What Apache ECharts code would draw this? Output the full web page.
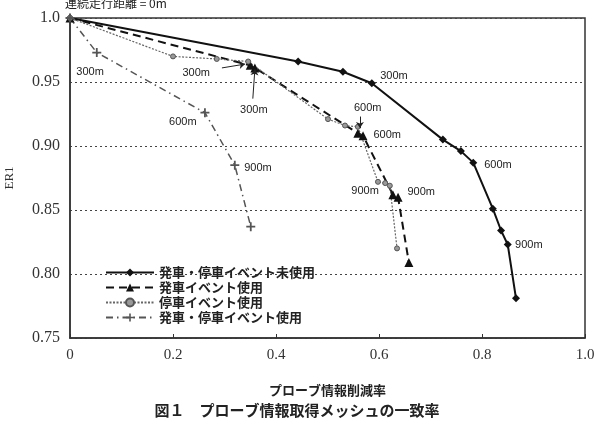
<!doctype html>
<html>
<head>
<meta charset="utf-8">
<script src="https://cdn.jsdelivr.net/npm/echarts@6/dist/echarts.min.js"></script>
<style>html,body{margin:0;padding:0;background:#fff;}</style>
</head>
<body>
<div id="main" style="width:594px;height:426px;"></div>
<script type="text/javascript">
// 系列名
var seriesNames = ['発車・停車イベント未使用', '発車イベント使用', '停車イベント使用', '発車・停車イベント使用'];

// 発車・停車イベント未使用
var s1x = [0, 0.443, 0.530, 0.586, 0.724, 0.759, 0.783, 0.821, 0.837, 0.850, 0.866];
var s1y = [1.0, 0.966, 0.958, 0.949, 0.905, 0.896, 0.887, 0.851, 0.834, 0.823, 0.781];
// 発車イベント使用
var s2x = [0, 0.350, 0.359, 0.559, 0.569, 0.627, 0.637, 0.658];
var s2y = [1.0, 0.963, 0.961, 0.910, 0.908, 0.862, 0.860, 0.809];
// 停車イベント使用
var s3x = [0, 0.200, 0.285, 0.346, 0.501, 0.534, 0.559, 0.598, 0.612, 0.621, 0.635];
var s3y = [1.0, 0.970, 0.968, 0.966, 0.921, 0.916, 0.915, 0.872, 0.871, 0.869, 0.820];
// 発車・停車イベント使用
var s4x = [0, 0.052, 0.262, 0.320, 0.351];
var s4y = [1.0, 0.973, 0.926, 0.885, 0.837];

var xTicks = ['0', '0.2', '0.4', '0.6', '0.8', '1.0'];
var yTicks = ['0.75', '0.80', '0.85', '0.90', '0.95', '1.0'];

// 距離ラベル
var annoText = ['300m', '300m', '300m', '300m', '600m', '900m', '600m', '600m', '900m', '900m', '600m', '900m'];
var annoX = [0.039, 0.245, 0.357, 0.629, 0.219, 0.365, 0.578, 0.616, 0.573, 0.682, 0.831, 0.891];
var annoY = [0.958, 0.957, 0.928, 0.955, 0.919, 0.883, 0.930, 0.909, 0.865, 0.864, 0.885, 0.823];

// 矢印 [x1,y1,x2,y2]
var arrows = [
  [0.295, 0.961, 0.340, 0.964],
  [0.355, 0.937, 0.359, 0.960],
  [0.563, 0.923, 0.563, 0.914]
];

function pairs(xs, ys) {
  var res = [];
  for (var i = 0; i < xs.length; i++) res.push([xs[i], ys[i]]);
  return res;
}

var annoData = [];
for (var i = 0; i < annoText.length; i++) {
  annoData.push({name: annoText[i], coord: [annoX[i], annoY[i]]});
}
var arrowData = [];
for (var j = 0; j < arrows.length; j++) {
  arrowData.push([{coord: [arrows[j][0], arrows[j][1]]}, {coord: [arrows[j][2], arrows[j][3]]}]);
}

var plusPath = 'path://M4,0H6V4H10V6H6V10H4V6H0V4H4Z';
var serif = '"Liberation Serif", "DejaVu Serif", serif';
var jp = '"Noto Sans CJK JP", sans-serif';

var myChart = echarts.init(document.getElementById('main'));
var option = {
  animation: false,
  backgroundColor: '#fff',
  title: [
    {text: '連続走行距離 = 0m', left: 60, top: -8, textStyle: {fontSize: 12, fontWeight: 'normal', color: '#222', fontFamily: jp}},
    {text: '図１　プローブ情報取得メッシュの一致率', left: 'center', top: 398, textStyle: {fontSize: 15, fontWeight: 'bold', color: '#222', fontFamily: jp}}
  ],
  grid: {left: 70, right: 9, top: 18, bottom: 88, outerBoundsMode: 'none', show: true, borderColor: '#333', borderWidth: 1.5, backgroundColor: 'transparent'},
  legend: {
    orient: 'vertical', left: 100, top: 261, itemWidth: 48, itemHeight: 10, itemGap: 2,
    textStyle: {fontSize: 13, fontWeight: 'bold', color: '#222', fontFamily: jp},
    data: seriesNames
  },
  xAxis: {
    type: 'value', min: 0, max: 1, interval: 0.2,
    name: 'プローブ情報削減率', nameLocation: 'middle', nameGap: 46,
    nameTextStyle: {fontSize: 13, fontWeight: 'bold', color: '#222', fontFamily: jp},
    axisLine: {lineStyle: {color: '#333', width: 1.5}},
    axisTick: {inside: true, length: 4, lineStyle: {color: '#333'}},
    axisLabel: {fontSize: 15, color: '#333', fontFamily: serif, margin: 10,
      formatter: function (v) { return xTicks[Math.round(v / 0.2)]; }},
    splitLine: {show: false}
  },
  yAxis: {
    type: 'value', min: 0.75, max: 1.0, interval: 0.05,
    name: 'ER1', nameLocation: 'middle', nameGap: 54, nameRotate: 90,
    nameTextStyle: {fontSize: 13, color: '#333', fontFamily: serif},
    axisLine: {lineStyle: {color: '#333', width: 1.5}},
    axisTick: {show: false},
    axisLabel: {fontSize: 16, color: '#333', fontFamily: serif, margin: 10,
      formatter: function (v) { return yTicks[Math.round((v - 0.75) / 0.05)]; }},
    splitLine: {show: true, lineStyle: {color: '#444', type: [2, 3], width: 1}}
  },
  series: [
    {
      name: seriesNames[0], type: 'line', data: pairs(s1x, s1y),
      symbol: 'diamond', symbolSize: 8, itemStyle: {color: '#111'},
      lineStyle: {color: '#111', width: 2},
      markPoint: {
        symbol: 'circle', symbolSize: 0,
        label: {show: true, formatter: '{b}', color: '#222', fontSize: 11, fontFamily: '"Liberation Sans", sans-serif', position: 'inside'},
        data: annoData
      },
      markLine: {
        silent: true, symbol: ['none', 'arrow'], symbolSize: 6,
        label: {show: false},
        lineStyle: {color: '#222', type: 'solid', width: 1},
        data: arrowData
      }
    },
    {
      name: seriesNames[1], type: 'line', data: pairs(s2x, s2y),
      symbol: 'triangle', symbolSize: 9, itemStyle: {color: '#111'},
      lineStyle: {color: '#111', width: 2, type: [8, 5]}
    },
    {
      name: seriesNames[2], type: 'line', data: pairs(s3x, s3y),
      symbol: 'circle', symbolSize: 5, itemStyle: {color: '#999', borderColor: '#555', borderWidth: 1},
      lineStyle: {color: '#666', width: 1.2, type: [2, 1.5]}
    },
    {
      name: seriesNames[3], type: 'line', data: pairs(s4x, s4y),
      symbol: plusPath, symbolSize: 9, itemStyle: {color: '#555'},
      lineStyle: {color: '#555', width: 1.5, type: [7, 4, 1.5, 4]}
    }
  ]
};
myChart.setOption(option);
</script>
</body>
</html>
